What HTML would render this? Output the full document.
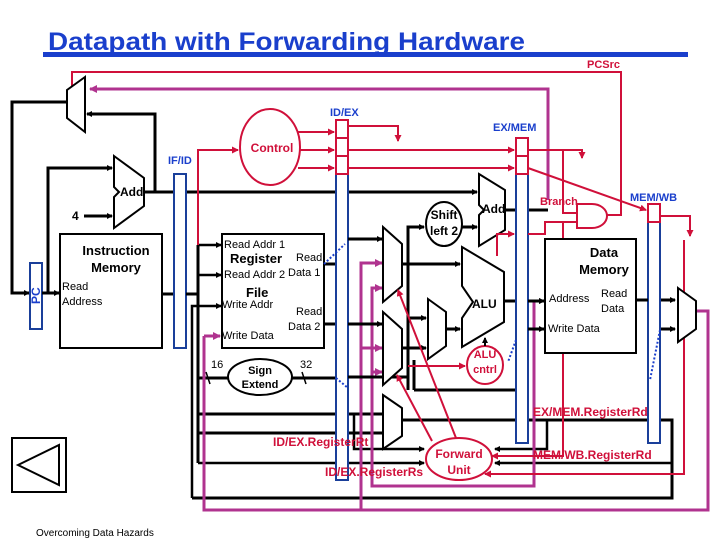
<!DOCTYPE html>
<html><head><meta charset="utf-8"><style>
html,body{margin:0;padding:0;background:#fff}
svg{display:block}
text{font-family:"Liberation Sans",Arial,sans-serif}
</style></head><body>
<svg width="720" height="540" viewBox="0 0 720 540" xmlns="http://www.w3.org/2000/svg">
<defs>
<marker id="ab" markerWidth="6" markerHeight="6" refX="5" refY="3" orient="auto" markerUnits="userSpaceOnUse"><path d="M0,0 L6,3 L0,6z" fill="#000"/></marker>
<marker id="ar" markerWidth="7" markerHeight="7" refX="6" refY="3.5" orient="auto" markerUnits="userSpaceOnUse"><path d="M0,0 L7,3.5 L0,7z" fill="#d0103a"/></marker>
<marker id="am" markerWidth="8" markerHeight="8" refX="7" refY="4" orient="auto" markerUnits="userSpaceOnUse"><path d="M0,0 L8,4 L0,8z" fill="#b0338f"/></marker>
</defs>

<!-- title -->
<text x="48" y="50" font-size="25" font-weight="bold" fill="#1a3fcc" textLength="477" lengthAdjust="spacingAndGlyphs">Datapath with Forwarding Hardware</text>
<rect x="43" y="52" width="645" height="5" fill="#1a3fcc"/>
<text x="587" y="68" font-size="11" font-weight="bold" fill="#d0103a">PCSrc</text>

<!-- PCSrc red line -->
<polyline points="72,90 72,72 621,72 621,215 607,215" fill="none" stroke="#d0103a" stroke-width="2"/>
<!-- magenta branch target -->
<polyline points="548,200 548,89 90,89" fill="none" stroke="#b0338f" stroke-width="3" marker-end="url(#am)"/>

<!-- PC mux -->
<polygon points="85,77 67,90 67,118 85,132" fill="#fff" stroke="#000" stroke-width="2"/>
<polyline points="155,192 155,114 87,114" fill="none" stroke="#000" stroke-width="3" marker-end="url(#ab)"/>
<polyline points="66,102 12,102 12,293 29,293" fill="none" stroke="#000" stroke-width="3" marker-end="url(#ab)"/>
<rect x="30" y="263" width="12" height="66" fill="#fff" stroke="#1a3f9a" stroke-width="2"/>
<text x="40" y="304" font-size="12" font-weight="bold" fill="#1a3fcc" transform="rotate(-90 40 304)">PC</text>
<polyline points="42,293 59,293" fill="none" stroke="#000" stroke-width="3" marker-end="url(#ab)"/>
<polyline points="48,293 48,168 112,168" fill="none" stroke="#000" stroke-width="3" marker-end="url(#ab)"/>

<!-- IF adder -->
<polygon points="114,156 144,178 144,206 114,228 114,197 119,192 114,187" fill="#fff" stroke="#000" stroke-width="2"/>
<text x="120" y="196" font-size="12" font-weight="bold">Add</text>
<text x="72" y="220" font-size="12" font-weight="bold">4</text>
<line x1="84" y1="216" x2="112" y2="216" stroke="#000" stroke-width="3" marker-end="url(#ab)"/>
<line x1="144" y1="192" x2="477" y2="192" stroke="#000" stroke-width="3" marker-end="url(#ab)"/>

<!-- Instruction memory -->
<rect x="60" y="234" width="102" height="114" fill="#fff" stroke="#000" stroke-width="2"/>
<text x="116" y="255" font-size="13" font-weight="bold" text-anchor="middle">Instruction</text>
<text x="116" y="272" font-size="13" font-weight="bold" text-anchor="middle">Memory</text>
<text x="62" y="290" font-size="11">Read</text>
<text x="62" y="305" font-size="11">Address</text>
<line x1="162" y1="294" x2="175" y2="294" stroke="#000" stroke-width="3"/>

<!-- IF/ID -->
<text x="168" y="164" font-size="11" font-weight="bold" fill="#1a3fcc">IF/ID</text>
<rect x="174" y="174" width="12" height="174" fill="#fff" stroke="#1a3f9a" stroke-width="2"/>

<!-- decode wiring -->
<line x1="186" y1="294" x2="198" y2="294" stroke="#000" stroke-width="3"/>
<line x1="198" y1="245" x2="198" y2="463" stroke="#000" stroke-width="3"/>
<line x1="198" y1="245" x2="221" y2="245" stroke="#000" stroke-width="2.5" marker-end="url(#ab)"/>
<line x1="198" y1="275" x2="221" y2="275" stroke="#000" stroke-width="2.5" marker-end="url(#ab)"/>
<polyline points="192,498 192,306 221,306" fill="none" stroke="#000" stroke-width="2.5" marker-end="url(#ab)"/>
<polyline points="198,245 198,150 238,150" fill="none" stroke="#d0103a" stroke-width="2" marker-end="url(#ar)"/>

<!-- Control -->
<ellipse cx="270" cy="147" rx="30" ry="38" fill="#fff" stroke="#d0103a" stroke-width="2"/>
<text x="272" y="152" font-size="12" font-weight="bold" fill="#d0103a" text-anchor="middle">Control</text>
<line x1="298" y1="132" x2="334" y2="132" stroke="#d0103a" stroke-width="2" marker-end="url(#ar)"/>
<line x1="300" y1="150" x2="334" y2="150" stroke="#d0103a" stroke-width="2" marker-end="url(#ar)"/>
<line x1="298" y1="168" x2="334" y2="168" stroke="#d0103a" stroke-width="2" marker-end="url(#ar)"/>

<!-- Register file -->
<rect x="222" y="234" width="102" height="114" fill="#fff" stroke="#000" stroke-width="2"/>
<text x="224" y="248" font-size="11">Read Addr 1</text>
<text x="230" y="263" font-size="13" font-weight="bold">Register</text>
<text x="296" y="261" font-size="11">Read</text>
<text x="224" y="278" font-size="11">Read Addr 2</text>
<text x="288" y="276" font-size="11">Data 1</text>
<text x="246" y="297" font-size="13" font-weight="bold">File</text>
<text x="222" y="308" font-size="11">Write Addr</text>
<text x="296" y="315" font-size="11">Read</text>
<text x="288" y="330" font-size="11">Data 2</text>
<text x="222" y="339" font-size="11">Write Data</text>
<line x1="324" y1="264" x2="336" y2="264" stroke="#000" stroke-width="3"/>
<line x1="324" y1="324" x2="336" y2="324" stroke="#000" stroke-width="3"/>

<!-- Sign extend -->
<line x1="198" y1="378" x2="228" y2="378" stroke="#000" stroke-width="3"/>
<line x1="292" y1="378" x2="336" y2="378" stroke="#000" stroke-width="3"/>
<ellipse cx="260" cy="377" rx="32" ry="18" fill="#fff" stroke="#000" stroke-width="2"/>
<text x="260" y="374" font-size="11" font-weight="bold" text-anchor="middle">Sign</text>
<text x="260" y="388" font-size="11" font-weight="bold" text-anchor="middle">Extend</text>
<text x="211" y="368" font-size="11">16</text>
<text x="300" y="368" font-size="11">32</text>
<line x1="206" y1="372" x2="210" y2="384" stroke="#000" stroke-width="1.5"/>
<line x1="302" y1="372" x2="306" y2="384" stroke="#000" stroke-width="1.5"/>

<!-- long black lines -->
<line x1="198" y1="414" x2="383" y2="414" stroke="#000" stroke-width="3"/>
<line x1="198" y1="433" x2="383" y2="433" stroke="#000" stroke-width="3"/>
<line x1="198" y1="463" x2="424" y2="463" stroke="#000" stroke-width="2.5" marker-end="url(#ab)"/>
<polyline points="354,414 354,449 424,449" fill="none" stroke="#000" stroke-width="2.5" marker-end="url(#ab)"/>
<polyline points="192,498 672,498 672,420 402,420" fill="none" stroke="#000" stroke-width="3"/>
<polyline points="672,463 495,463" fill="none" stroke="#000" stroke-width="2.5" marker-end="url(#ab)"/>
<polyline points="547,420 547,449 495,449" fill="none" stroke="#000" stroke-width="2.5" marker-end="url(#ab)"/>

<!-- magenta forwarding wires -->
<polyline points="204,336 204,510 708,510 708,311 697,311" fill="none" stroke="#b0338f" stroke-width="3"/>
<line x1="204" y1="336" x2="220" y2="336" stroke="#b0338f" stroke-width="3" marker-end="url(#am)"/>
<polyline points="361,510 361,263 382,263" fill="none" stroke="#b0338f" stroke-width="3" marker-end="url(#am)"/>
<line x1="361" y1="348" x2="382" y2="348" stroke="#b0338f" stroke-width="3" marker-end="url(#am)"/>
<polyline points="534,300 534,486 372,486 372,288 382,288" fill="none" stroke="#b0338f" stroke-width="3" marker-end="url(#am)"/>
<line x1="372" y1="372" x2="382" y2="372" stroke="#b0338f" stroke-width="3" marker-end="url(#am)"/>

<!-- ID/EX -->
<text x="330" y="116" font-size="11" font-weight="bold" fill="#1a3fcc">ID/EX</text>
<rect x="336" y="174" width="12" height="306" fill="#fff" stroke="#1a3f9a" stroke-width="2"/>
<rect x="336" y="120" width="12" height="18" fill="#fff" stroke="#d0103a" stroke-width="2"/>
<rect x="336" y="138" width="12" height="18" fill="#fff" stroke="#d0103a" stroke-width="2"/>
<rect x="336" y="156" width="12" height="18" fill="#fff" stroke="#d0103a" stroke-width="2"/>
<line x1="324" y1="264" x2="345" y2="244" stroke="#1a3fcc" stroke-width="2" stroke-dasharray="2,2"/>
<line x1="336" y1="378" x2="348" y2="388" stroke="#1a3fcc" stroke-width="2" stroke-dasharray="2,2"/>

<!-- after ID/EX -->
<polyline points="348,126 398,126 398,141" fill="none" stroke="#d0103a" stroke-width="2" marker-end="url(#ar)"/>
<line x1="348" y1="150" x2="514" y2="150" stroke="#d0103a" stroke-width="2" marker-end="url(#ar)"/>
<line x1="348" y1="168" x2="514" y2="168" stroke="#d0103a" stroke-width="2" marker-end="url(#ar)"/>
<line x1="348" y1="239" x2="382" y2="239" stroke="#000" stroke-width="3" marker-end="url(#ab)"/>
<line x1="348" y1="324" x2="382" y2="324" stroke="#000" stroke-width="3" marker-end="url(#ab)"/>
<line x1="348" y1="377" x2="408" y2="377" stroke="#000" stroke-width="3"/>
<polyline points="408,390 408,227 424,227" fill="none" stroke="#000" stroke-width="3" marker-end="url(#ab)"/>
<line x1="408" y1="318" x2="426" y2="318" stroke="#000" stroke-width="3" marker-end="url(#ab)"/>
<line x1="402" y1="348" x2="426" y2="348" stroke="#000" stroke-width="3" marker-end="url(#ab)"/>
<line x1="402" y1="264" x2="460" y2="264" stroke="#000" stroke-width="3" marker-end="url(#ab)"/>
<line x1="414" y1="390" x2="516" y2="390" stroke="#000" stroke-width="3"/>
<line x1="414" y1="360" x2="414" y2="390" stroke="#000" stroke-width="3"/>
<line x1="408" y1="366" x2="465" y2="366" stroke="#d0103a" stroke-width="2" marker-end="url(#ar)"/>

<!-- forward muxes -->
<polygon points="383,227 402,244 402,286 383,302" fill="#fff" stroke="#000" stroke-width="2"/>
<polygon points="383,312 402,329 402,368 383,385" fill="#fff" stroke="#000" stroke-width="2"/>
<polygon points="383,395 402,408 402,436 383,449" fill="#fff" stroke="#000" stroke-width="2"/>
<polygon points="428,299 446,312 446,346 428,359" fill="#fff" stroke="#000" stroke-width="2"/>
<line x1="446" y1="329" x2="460" y2="329" stroke="#000" stroke-width="3" marker-end="url(#ab)"/>

<!-- Shift left 2 -->
<ellipse cx="444" cy="224" rx="18" ry="22" fill="#fff" stroke="#000" stroke-width="2"/>
<text x="444" y="219" font-size="12" font-weight="bold" text-anchor="middle">Shift</text>
<text x="444" y="235" font-size="12" font-weight="bold" text-anchor="middle">left 2</text>
<line x1="462" y1="227" x2="477" y2="227" stroke="#000" stroke-width="3" marker-end="url(#ab)"/>

<!-- Branch adder -->
<polygon points="479,174 505,190 505,230 479,246 479,215 484,210 479,205" fill="#fff" stroke="#000" stroke-width="2"/>
<text x="482" y="213" font-size="12" font-weight="bold">Add</text>
<line x1="505" y1="210" x2="548" y2="210" stroke="#000" stroke-width="3"/>

<!-- ALU -->
<polygon points="462,247 504,272 504,322 462,347 462,318 473,302 462,286" fill="#fff" stroke="#000" stroke-width="2"/>
<text x="472" y="308" font-size="12" font-weight="bold">ALU</text>
<polyline points="497,256 497,234 514,234" fill="none" stroke="#d0103a" stroke-width="2" marker-end="url(#ar)"/>
<line x1="504" y1="301" x2="544" y2="301" stroke="#000" stroke-width="3" marker-end="url(#ab)"/>
<ellipse cx="485" cy="365" rx="18" ry="19" fill="#fff" stroke="#d0103a" stroke-width="2"/>
<text x="485" y="358" font-size="11" font-weight="bold" fill="#d0103a" text-anchor="middle">ALU</text>
<text x="485" y="373" font-size="11" font-weight="bold" fill="#d0103a" text-anchor="middle">cntrl</text>
<line x1="485" y1="346" x2="485" y2="338" stroke="#000" stroke-width="2" marker-end="url(#ab)"/>

<!-- EX/MEM -->
<text x="493" y="131" font-size="11" font-weight="bold" fill="#1a3fcc">EX/MEM</text>
<rect x="516" y="174" width="12" height="269" fill="#fff" stroke="#1a3f9a" stroke-width="2"/>
<rect x="516" y="138" width="12" height="18" fill="#fff" stroke="#d0103a" stroke-width="2"/>
<rect x="516" y="156" width="12" height="18" fill="#fff" stroke="#d0103a" stroke-width="2"/>
<line x1="528" y1="301" x2="544" y2="301" stroke="#000" stroke-width="3" marker-end="url(#ab)"/>
<line x1="528" y1="329" x2="544" y2="329" stroke="#000" stroke-width="3" marker-end="url(#ab)"/>
<line x1="516" y1="340" x2="508" y2="362" stroke="#1a3fcc" stroke-width="2" stroke-dasharray="2,2"/>
<polyline points="528,150 582,150 582,158" fill="none" stroke="#d0103a" stroke-width="2" marker-end="url(#ar)"/>
<polyline points="563,150 563,213 577,213" fill="none" stroke="#d0103a" stroke-width="2"/>
<polyline points="528,234 545,234 545,222 577,222" fill="none" stroke="#d0103a" stroke-width="2"/>
<line x1="528" y1="168" x2="646" y2="210" stroke="#d0103a" stroke-width="2" marker-end="url(#ar)"/>
<text x="540" y="205" font-size="11" font-weight="bold" fill="#d0103a">Branch</text>
<path d="M577,204 L592,204 A15,12 0 0 1 592,228 L577,228 Z" fill="#fff" stroke="#d0103a" stroke-width="2"/>
<polyline points="563,222 563,456 492,456" fill="none" stroke="#d0103a" stroke-width="2" marker-end="url(#ar)"/>

<!-- Data memory -->
<rect x="545" y="239" width="91" height="114" fill="#fff" stroke="#000" stroke-width="2"/>
<text x="604" y="257" font-size="13" font-weight="bold" text-anchor="middle">Data</text>
<text x="604" y="274" font-size="13" font-weight="bold" text-anchor="middle">Memory</text>
<text x="549" y="302" font-size="11">Address</text>
<text x="601" y="297" font-size="11">Read</text>
<text x="601" y="312" font-size="11">Data</text>
<text x="548" y="332" font-size="11">Write Data</text>
<line x1="636" y1="300" x2="675" y2="300" stroke="#000" stroke-width="3" marker-end="url(#ab)"/>
<line x1="660" y1="329" x2="675" y2="329" stroke="#000" stroke-width="3" marker-end="url(#ab)"/>

<!-- MEM/WB -->
<text x="630" y="201" font-size="11" font-weight="bold" fill="#1a3fcc">MEM/WB</text>
<rect x="648" y="222" width="12" height="221" fill="#fff" stroke="#1a3f9a" stroke-width="2"/>
<rect x="648" y="204" width="12" height="18" fill="#fff" stroke="#d0103a" stroke-width="2"/>
<polyline points="660,216 690,216 690,236" fill="none" stroke="#d0103a" stroke-width="2" marker-end="url(#ar)"/>
<polyline points="684,240 684,474 485,474" fill="none" stroke="#d0103a" stroke-width="2" marker-end="url(#ar)"/>
<line x1="660" y1="330" x2="650" y2="380" stroke="#1a3fcc" stroke-width="2" stroke-dasharray="2,2"/>
<polygon points="678,288 696,301 696,329 678,342" fill="#fff" stroke="#000" stroke-width="2"/>
<line x1="636" y1="300" x2="648" y2="300" stroke="#000" stroke-width="3"/>

<!-- Forward unit -->
<line x1="432" y1="441" x2="397" y2="375" stroke="#d0103a" stroke-width="2" marker-end="url(#ar)"/>
<line x1="456" y1="438" x2="398" y2="290" stroke="#d0103a" stroke-width="2" marker-end="url(#ar)"/>
<ellipse cx="459" cy="459" rx="33" ry="21" fill="#fff" stroke="#d0103a" stroke-width="2"/>
<text x="459" y="458" font-size="12" font-weight="bold" fill="#d0103a" text-anchor="middle">Forward</text>
<text x="459" y="474" font-size="12" font-weight="bold" fill="#d0103a" text-anchor="middle">Unit</text>

<text x="533" y="416" font-size="12" font-weight="bold" fill="#d0103a">EX/MEM.RegisterRd</text>
<text x="273" y="446" font-size="12" font-weight="bold" fill="#d0103a">ID/EX.RegisterRt</text>
<text x="325" y="476" font-size="12" font-weight="bold" fill="#d0103a">ID/EX.RegisterRs</text>
<text x="533" y="459" font-size="12" font-weight="bold" fill="#d0103a">MEM/WB.RegisterRd</text>

<!-- bottom-left -->
<rect x="12" y="438" width="54" height="54" fill="#fff" stroke="#000" stroke-width="2"/>
<polygon points="18,465 59,445 59,485" fill="none" stroke="#000" stroke-width="2"/>
<text x="36" y="536" font-size="10">Overcoming Data Hazards</text>
</svg>
</body></html>
